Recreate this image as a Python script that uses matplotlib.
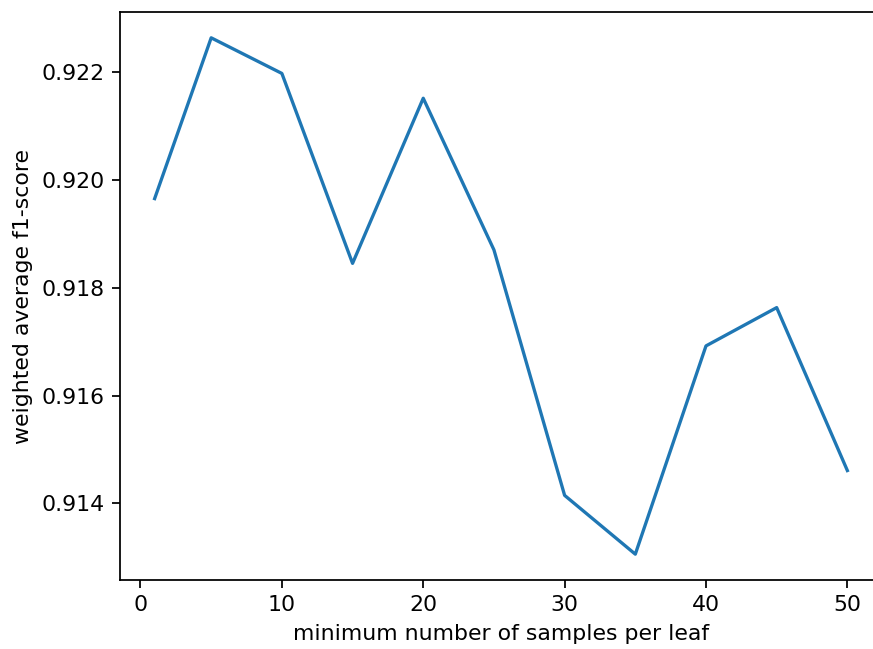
import matplotlib
matplotlib.use("Agg")
import matplotlib.pyplot as plt

min_samples_leaf = [1, 5, 10, 15, 20, 25, 30, 35, 40, 45, 50]
f1_scores = [0.91965, 0.92263, 0.92197, 0.91845, 0.92151, 0.91870,
             0.91415, 0.91306, 0.91692, 0.91763, 0.91461]

dpi = 158
fig = plt.figure(figsize=(873 / dpi, 649 / dpi), dpi=dpi)
ax = fig.add_axes([120 / 873, 69 / 649, 762 / 873, 568 / 649])

ax.plot(min_samples_leaf, f1_scores)
ax.set_xlabel("minimum number of samples per leaf")
ax.set_ylabel("weighted average f1-score")

fig.savefig("out.png", dpi=dpi)
